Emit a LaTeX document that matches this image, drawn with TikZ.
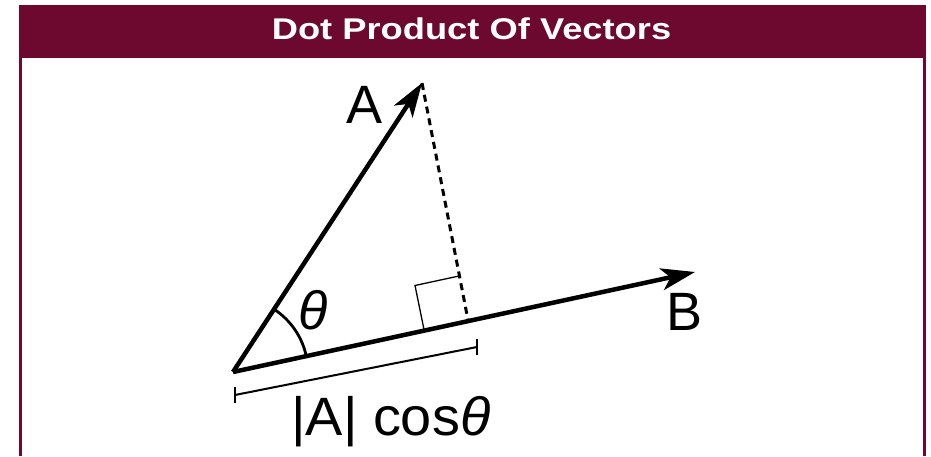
\documentclass[tikz,border=0pt]{standalone}
\usepackage{fontspec}
\setmainfont{Liberation Sans}
\usetikzlibrary{arrows.meta}
\definecolor{maroon}{RGB}{109,8,46}
\begin{document}
\begin{tikzpicture}[x=1pt,y=1pt,
  vec/.style={line width=4.5pt,-{Stealth[length=34pt,width=22pt,inset=9pt]}},
  dimline/.style={line width=2pt},
  lbl/.style={inner sep=0pt,font=\fontsize{54}{60}\selectfont}]
\useasboundingbox (0,0) rectangle (931,456);
\fill[white] (0,0) rectangle (931,456);
% frame
\fill[maroon] (19,0) rectangle (926,451);
\fill[white] (22,0) rectangle (923,398);
\node[inner sep=0pt,text=white,font=\bfseries\fontsize{30}{36}\selectfont] (title) at (471.5,427.5) {\scalebox{1.21}[1]{Dot Product Of Vectors}};
% points
\coordinate (O) at (233,84);
\coordinate (Atip) at (422,373);
\coordinate (Btip) at (695,184);
\coordinate (F) at (468,136);
% right angle marker
\coordinate (R1) at (424,126.5);
\coordinate (R2) at (459,180);
\coordinate (Rc) at (415,170.5);
\draw[line width=1.3pt] (R1) -- (Rc) -- (R2);
% dotted projection
\draw[line width=3pt,dash pattern=on 7pt off 5pt] (Atip) -- (F);
% vectors
\draw[vec] (O) -- (Atip);
\draw[vec] (O) -- (Btip);
% angle arc
\draw[line width=2.8pt] ([shift={(12.2:75pt)}]O) arc[start angle=12.2,end angle=56.8,radius=75pt];
% dimension line
\coordinate (D1) at (235,61);
\coordinate (D2) at (477,109);
\draw[dimline] (D1) -- (D2);
\draw[dimline] ([yshift=-8pt]D1) -- ([yshift=8pt]D1);
\draw[dimline] ([yshift=-8pt]D2) -- ([yshift=8pt]D2);
% labels
\node[lbl] (labA) at (365,351) {A};
\node[lbl] (labB) at (684,144) {B};
\node[lbl] (theta) at (313,146) {\textit{θ}};
\node[lbl,anchor=base west] (proj) at (291,21) {\scalebox{1.035}[1]{|A| cos\textit{θ}}};
\end{tikzpicture}
\end{document}
